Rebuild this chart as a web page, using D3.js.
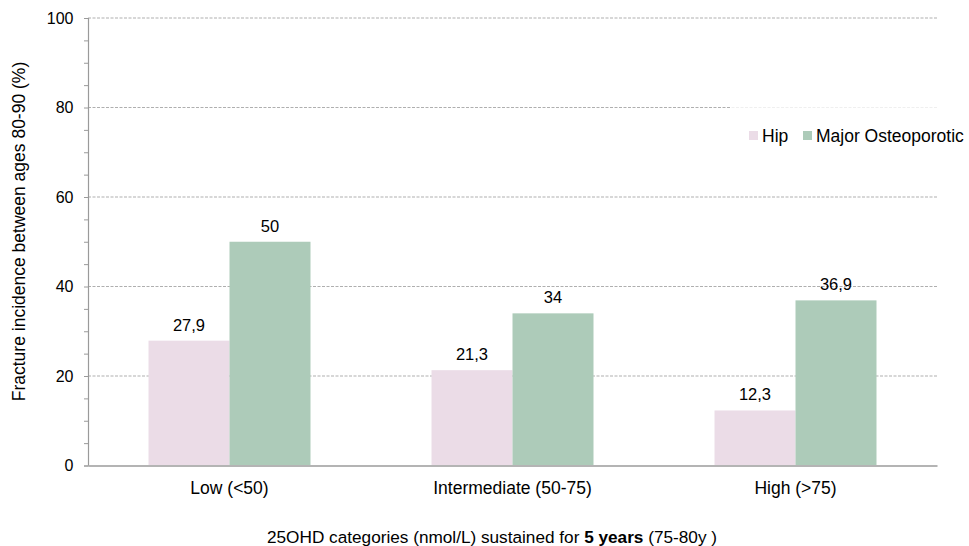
<!DOCTYPE html>
<html><head><meta charset="utf-8">
<script src="https://cdn.jsdelivr.net/npm/d3@7"></script>
<style>body{margin:0;background:#fff;} text{font-family:"Liberation Sans",Arial,sans-serif;fill:#000;}</style>
</head><body><svg id="c" width="969" height="546"></svg>
<script>
const categories = ["Low (<50)", "Intermediate (50-75)", "High (>75)"];
const seriesNames = ["Hip", "Major Osteoporotic"];
const hipValues = [27.9, 21.3, 12.3];
const majorValues = [50, 34, 36.9];
const yTicks = [0, 20, 40, 60, 80, 100];
const colors = ["#EBDCE7", "#ADCBB9"];

const svg = d3.select("#c");
const m = {left: 88, right: 937, top: 18, bottom: 465.5};
const x = d3.scaleBand().domain(categories).range([m.left, m.right]).paddingInner(0).paddingOuter(0);
const x1 = d3.scaleBand().domain(seriesNames).range([0, x.bandwidth()]).paddingInner(0).paddingOuter(0.747);
const y = d3.scaleLinear().domain([0, 100]).range([m.bottom, m.top]);

// gridlines
svg.append("g").selectAll("line").data(yTicks.filter(d => d > 0)).join("line")
  .attr("x1", m.left).attr("x2", m.right).attr("y1", d => y(d)).attr("y2", d => y(d))
  .attr("stroke", "#a6a6a6").attr("stroke-width", 0.9).attr("stroke-dasharray", "3,1.5");

// bars
const data = categories.map((c, i) => ({c, vals: [hipValues[i], majorValues[i]]}));
const g = svg.append("g");
data.forEach(d => {
  d.vals.forEach((v, j) => {
    const bx = x(d.c) + x1(seriesNames[j]);
    g.append("rect").attr("x", bx).attr("width", x1.bandwidth())
      .attr("y", y(v)).attr("height", y(0) - y(v)).attr("fill", colors[j]);
    g.append("text").attr("x", bx + x1.bandwidth() / 2).attr("y", y(v) - 10)
      .attr("text-anchor", "middle").attr("font-size", 16.5)
      .text(String(v).replace(".", ","));
  });
});

// y axis
const yAxis = d3.axisLeft(y).tickValues(d3.range(0, 101, 5)).tickSize(4).tickFormat(d => yTicks.includes(d) ? d : "");
const ya = svg.append("g").attr("transform", `translate(${m.left},0)`).call(yAxis);
ya.select(".domain").attr("stroke", "#9a9a9a").attr("stroke-width", 1.2);
ya.selectAll(".tick line").attr("stroke", "#9a9a9a");
ya.selectAll(".tick text").attr("font-size", 16).attr("font-family", "Liberation Sans, Arial").attr("fill", "#000").attr("x", -14.5);

// x axis
const xa = svg.append("g").attr("transform", `translate(0,${m.bottom})`).call(d3.axisBottom(x).tickSize(0).tickPadding(16.5));
xa.select(".domain").attr("stroke", "#b4b4b4").attr("stroke-width", 2);
xa.selectAll(".tick text").attr("font-size", 17.5).attr("font-family", "Liberation Sans, Arial").attr("fill", "#000");

// axis titles
svg.append("text").attr("transform", "translate(25,231.5) rotate(-90)").attr("text-anchor", "middle")
  .attr("font-size", 17.5).text("Fracture incidence between ages 80-90 (%)");
const t = svg.append("text").attr("x", 492).attr("y", 543).attr("text-anchor", "middle").attr("font-size", 17.2);
t.append("tspan").text("25OHD categories (nmol/L) sustained for ");
t.append("tspan").attr("font-weight", "bold").text("5 years");
t.append("tspan").text(" (75-80y )");

// legend
svg.append("rect").attr("x", 730).attr("y", 106).attr("width", 207).attr("height", 60).attr("fill", "#fff").attr("opacity", 0.8);
const lg = svg.append("g");
const lx = [749, 803];
seriesNames.forEach((s, i) => {
  lg.append("rect").attr("x", lx[i]).attr("y", 131).attr("width", 9).attr("height", 9).attr("fill", colors[i]);
  lg.append("text").attr("x", lx[i] + 13).attr("y", 142).attr("font-size", 17.5).text(s);
});
</script></body></html>
